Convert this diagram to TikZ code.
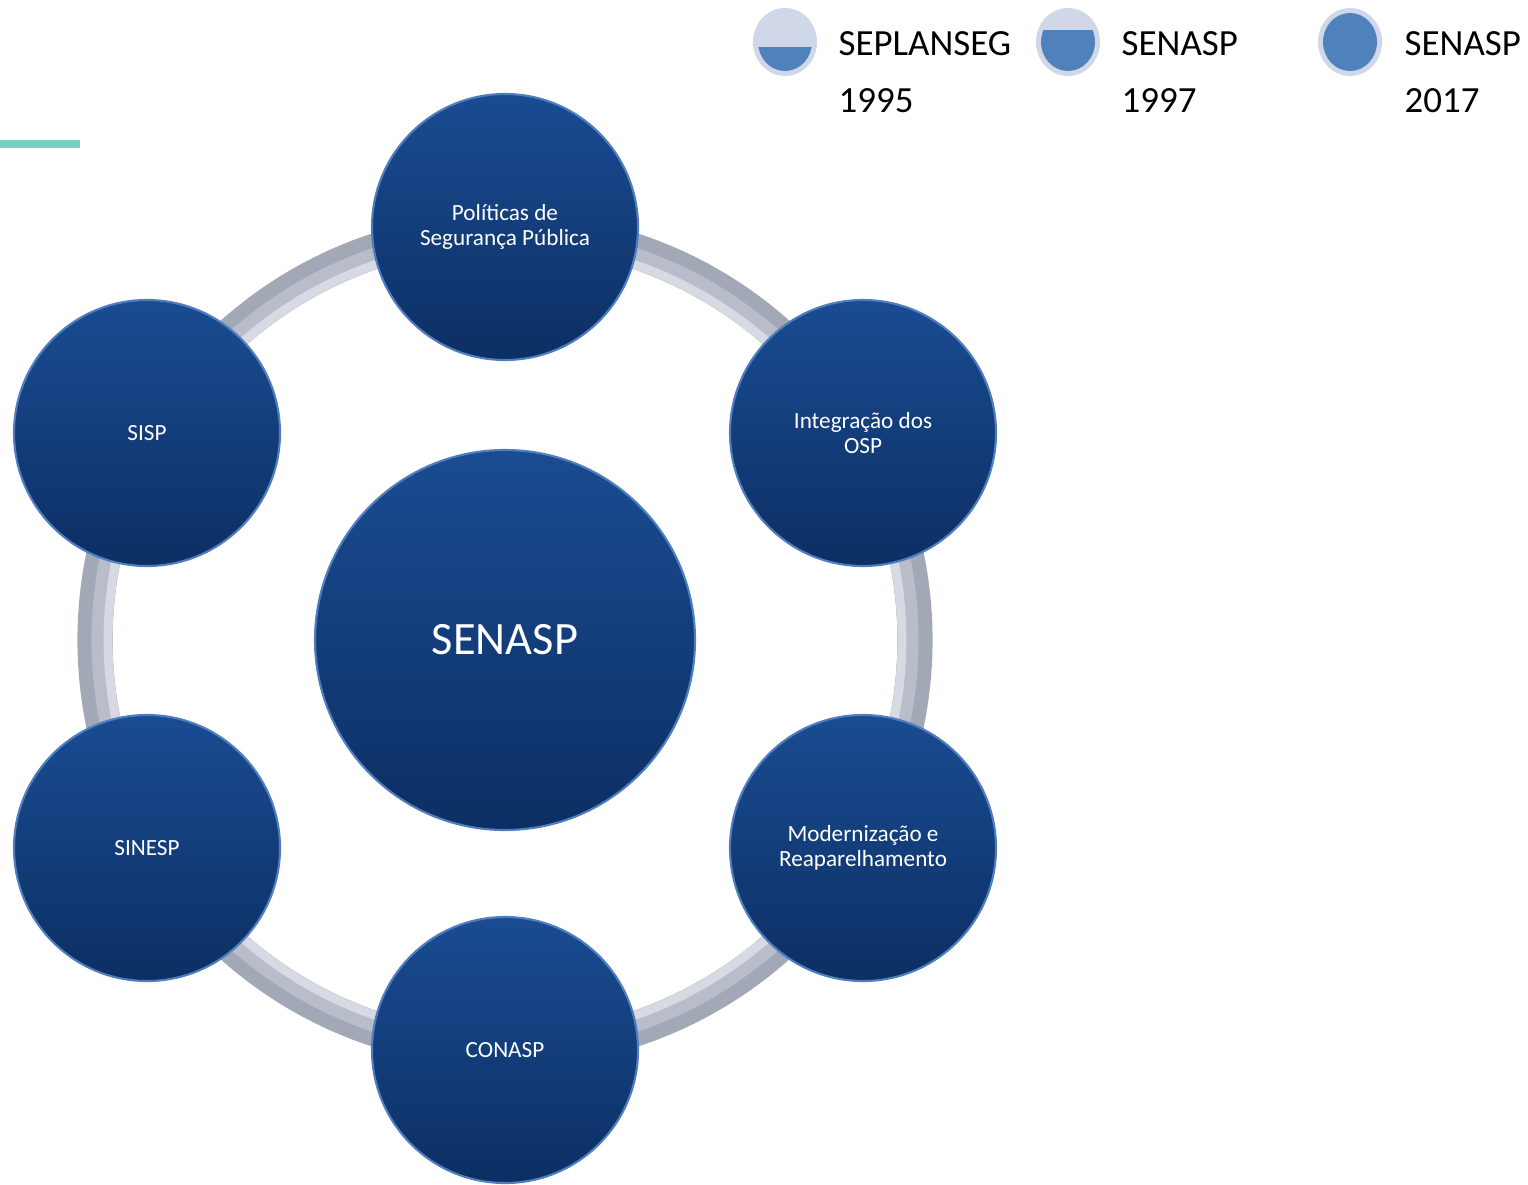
\documentclass[tikz,border=0pt]{standalone}
\usepackage{fontspec}
\setmainfont{Carlito}
\usepackage{tikz}
\usetikzlibrary{positioning}
\definecolor{bubbletop}{HTML}{1A4C92}
\definecolor{bubblebot}{HTML}{0C2F63}
\definecolor{bubblerim}{HTML}{4F7DBE}
\definecolor{ringgray}{HTML}{A3A8B7}
\definecolor{ringmid}{HTML}{B9BDC9}
\definecolor{ringlight}{HTML}{D7DAE2}
\definecolor{keyfill}{HTML}{CFD7E8}
\definecolor{keyblue}{HTML}{4F81BD}
\definecolor{tealbar}{HTML}{76D0BD}
\tikzset{bubble/.style = {circle, minimum size=2.66cm, inner sep=0pt,
                          top color=bubbletop, bottom color=bubblebot,
                          draw=bubblerim, line width=0.6pt,
                          text=white, align=center,
                          font=\fontsize{6.6}{7.1}\selectfont},
         keytext/.style = {anchor=west, inner sep=0pt,
                           font=\fontsize{10.5}{12}\selectfont}}

\begin{document}
\begin{tikzpicture}
    \useasboundingbox (0,0) rectangle (15.28,-11.84);
    \fill[white] (0,0) rectangle (15.28,-11.84);

    \draw[tealbar, line width=2.3pt] (0,-1.44) -- (0.80,-1.44);

    % ring behind the bubbles
    \draw[ringgray, line width=10pt] (5.05,-6.40) circle (4.10);
    \draw[ringmid, line width=6pt] (5.05,-6.40) circle (4.03);
    \draw[ringlight, line width=2.5pt] (5.05,-6.40) circle (3.97);

    \node[bubble, minimum size=3.8cm, font=\fontsize{13.2}{15}\selectfont] (senasp) at (5.05,-6.40) {SENASP};
    \node[bubble] (politicas) at (5.05,-2.27) {Políticas de\\Segurança Pública};
    \node[bubble] (integracao) at (8.63,-4.33) {Integração dos\\OSP};
    \node[bubble] (moderniza) at (8.63,-8.48) {Modernização e\\Reaparelhamento};
    \node[bubble] (conasp) at (5.05,-10.50) {CONASP};
    \node[bubble] (sinesp) at (1.47,-8.48) {SINESP};
    \node[bubble] (sisp) at (1.47,-4.33) {SISP};

    % legend
    \fill[keyfill] (7.85,-0.42) ellipse (0.32 and 0.34);
    \begin{scope}
        \clip (7.4,-0.48) rectangle (8.3,-0.9);
        \fill[keyblue] (7.85,-0.42) ellipse (0.27 and 0.29);
    \end{scope}
    \fill[keyfill] (10.68,-0.42) ellipse (0.32 and 0.34);
    \begin{scope}
        \clip (10.2,-0.31) rectangle (11.1,-0.9);
        \fill[keyblue] (10.68,-0.42) ellipse (0.27 and 0.29);
    \end{scope}
    \fill[keyfill] (13.50,-0.42) ellipse (0.32 and 0.34);
    \fill[keyblue] (13.50,-0.42) ellipse (0.27 and 0.29);

    \node[keytext] (k1) at (8.38,-0.44) {SEPLANSEG};
    \node[keytext] (y1) at (8.38,-1.01) {1995};
    \node[keytext] (k2) at (11.21,-0.44) {SENASP};
    \node[keytext] (y2) at (11.21,-1.01) {1997};
    \node[keytext] (k3) at (14.04,-0.44) {SENASP};
    \node[keytext] (y3) at (14.04,-1.01) {2017};
\end{tikzpicture}
\end{document}
